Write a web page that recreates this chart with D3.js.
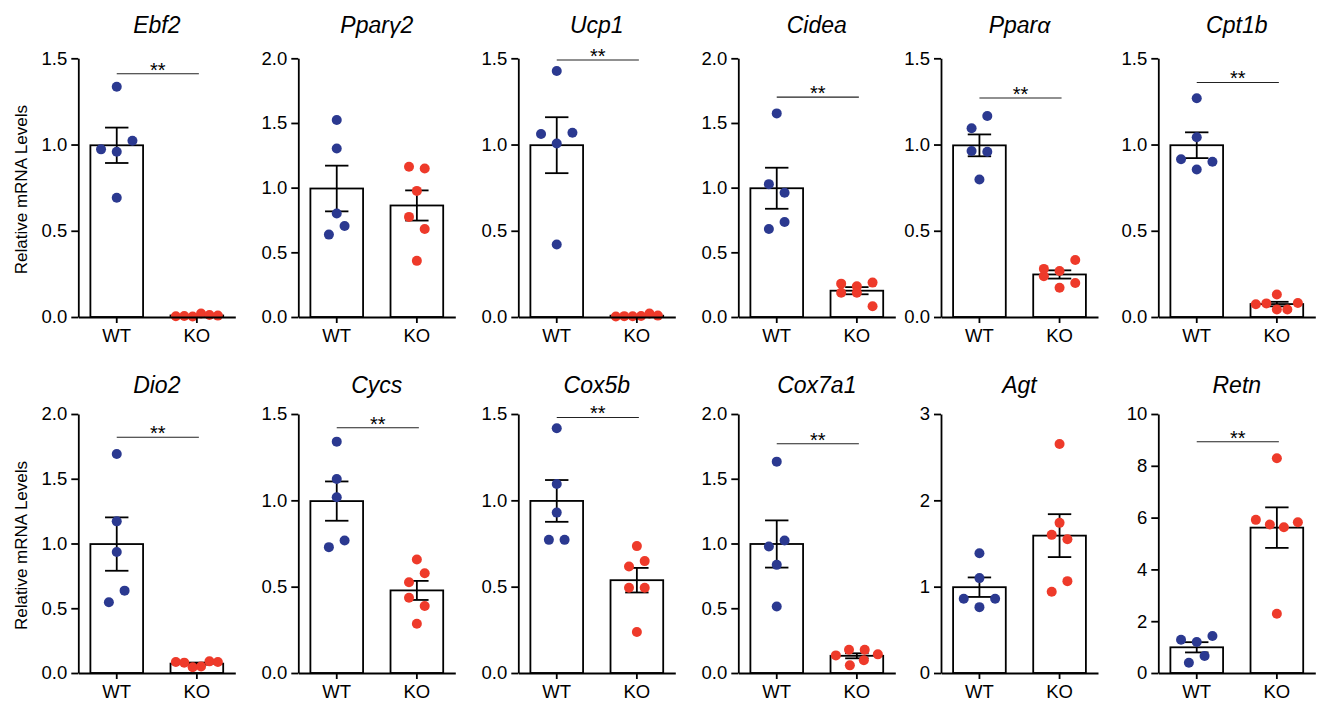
<!DOCTYPE html>
<html>
<head>
<meta charset="utf-8">
<script src="https://cdn.jsdelivr.net/npm/d3@7"></script>
<style>
  body { margin: 0; background: #fff; }
  text { font-family: "Liberation Sans", Arial, sans-serif; }
</style>
</head>
<body>
<svg id="chart" width="1321" height="702"></svg>
<script>
// Data (relative mRNA levels, one dot per mouse)
const genes = ["Ebf2", "Pparγ2", "Ucp1", "Cidea", "Pparα", "Cpt1b",
               "Dio2", "Cycs", "Cox5b", "Cox7a1", "Agt", "Retn"];
const groups = ["WT", "KO"];

const wtValues = [
  [1.335, 0.972, 0.958, 1.022, 0.691],
  [1.523, 1.303, 0.800, 0.637, 0.704],
  [1.426, 1.061, 1.006, 1.068, 0.420],
  [1.574, 1.027, 0.960, 0.681, 0.735],
  [1.094, 1.165, 0.962, 0.958, 0.797],
  [0.915, 0.855, 0.900, 1.042, 1.268],
  [1.691, 1.171, 0.934, 0.546, 0.636],
  [1.340, 1.124, 1.018, 0.729, 0.767],
  [1.417, 1.095, 0.929, 0.771, 0.771],
  [1.632, 0.977, 1.023, 0.835, 0.514],
  [1.388, 1.099, 0.860, 0.763, 0.860],
  [1.285, 1.195, 1.427, 0.398, 0.656]
];

const koValues = [
  [0.004, 0.006, 0.003, 0.020, 0.012, 0.008],
  [1.161, 1.148, 0.975, 0.774, 0.681, 0.434],
  [0.003, 0.005, 0.004, 0.006, 0.020, 0.008],
  [0.258, 0.188, 0.237, 0.188, 0.266, 0.083],
  [0.236, 0.170, 0.197, 0.279, 0.267, 0.331],
  [0.074, 0.079, 0.043, 0.043, 0.081, 0.130],
  [0.085, 0.080, 0.045, 0.050, 0.090, 0.085],
  [0.657, 0.526, 0.578, 0.436, 0.388, 0.285],
  [0.735, 0.617, 0.648, 0.494, 0.494, 0.237],
  [0.136, 0.180, 0.059, 0.098, 0.180, 0.144],
  [2.653, 1.739, 1.600, 1.550, 0.941, 1.064],
  [8.290, 5.913, 5.733, 5.630, 5.823, 2.288]
];

// y axis range and ticks per panel
const yMax = [1.5, 2, 1.5, 2, 1.5, 1.5, 2, 1.5, 1.5, 2, 3, 10];
const yTicks = [
  [0, 0.5, 1, 1.5], [0, 0.5, 1, 1.5, 2], [0, 0.5, 1, 1.5], [0, 0.5, 1, 1.5, 2],
  [0, 0.5, 1, 1.5], [0, 0.5, 1, 1.5], [0, 0.5, 1, 1.5, 2], [0, 0.5, 1, 1.5],
  [0, 0.5, 1, 1.5], [0, 0.5, 1, 1.5, 2], [0, 1, 2, 3], [0, 2, 4, 6, 8, 10]
];
// height of the "**" bracket (null = not significant)
const sigLevel = [1.41, null, 1.49, 1.70, 1.27, 1.36, 1.82, 1.42, 1.48, 1.77, null, 8.93];

// Layout
const panelX = [78.3, 298.3, 518.3, 738.3, 941, 1158.3];
const rowZero = [317, 673];
const rowTop = [58.3, 414];
const titleY = [32.5, 393];
const axisWidth = 157;
const dotR = 5;
const colours = { WT: "#2b3990", KO: "#ee3a2a" };
const FONT = "'Liberation Sans', Arial, sans-serif";

const svg = d3.select("#chart");

// Scatter dots in rows (GraphPad-like): points close in y share a row and are spread sideways
function swarm(values, y) {
  const step = 15.7, maxHalf = 21, gap = 14;
  const order = d3.range(values.length).sort((a, b) => values[a] - values[b] || a - b);
  const off = new Array(values.length).fill(0);
  let i = 0;
  while (i < order.length) {
    const y0 = y(values[order[i]]);
    let j = i;
    while (j < order.length && Math.abs(y(values[order[j]]) - y0) < gap) j++;
    const bin = order.slice(i, j).sort((a, b) => a - b);
    const n = bin.length;
    const sp = n > 1 ? Math.min(step, 2 * maxHalf / (n - 1)) : 0;
    bin.forEach((k, m) => off[k] = (m - (n - 1) / 2) * sp);
    i = j;
  }
  return off;
}

genes.forEach((gene, i) => {
  const col = i % 6, row = Math.floor(i / 6);
  const a = panelX[col];
  const g = svg.append("g");

  const x = d3.scaleBand()
    .domain(groups)
    .range([a, a + axisWidth])
    .paddingInner(0.3425)
    .paddingOuter(0.151);

  const y = d3.scaleLinear()
    .domain([0, yMax[i]])
    .range([rowZero[row], rowTop[row]]);

  const fmt = yMax[i] >= 3 ? d3.format("d") : d3.format(".1f");

  const series = { WT: wtValues[i], KO: koValues[i] };
  const stats = groups.map(k => {
    const v = series[k];
    return { key: k, mean: d3.mean(v), sem: d3.deviation(v) / Math.sqrt(v.length) };
  });

  // Bars
  g.selectAll(".bar")
    .data(stats)
    .join("rect")
    .attr("x", d => x(d.key))
    .attr("width", x.bandwidth())
    .attr("y", d => y(d.mean))
    .attr("height", d => y(0) - y(d.mean))
    .attr("fill", "#fff")
    .attr("stroke", "#000")
    .attr("stroke-width", 1.8);

  // Error bars (mean ± SEM)
  const cx = k => x(k) + x.bandwidth() / 2;
  const eb = g.selectAll(".err").data(stats).join("g");
  eb.append("line")
    .attr("x1", d => cx(d.key)).attr("x2", d => cx(d.key))
    .attr("y1", d => y(d.mean - d.sem)).attr("y2", d => y(d.mean + d.sem));
  eb.append("line")
    .attr("x1", d => cx(d.key) - 11.7).attr("x2", d => cx(d.key) + 11.7)
    .attr("y1", d => y(d.mean + d.sem)).attr("y2", d => y(d.mean + d.sem));
  eb.append("line")
    .attr("x1", d => cx(d.key) - 11.7).attr("x2", d => cx(d.key) + 11.7)
    .attr("y1", d => y(d.mean - d.sem)).attr("y2", d => y(d.mean - d.sem));
  eb.selectAll("line").attr("stroke", "#000").attr("stroke-width", 1.8);

  // Dots
  groups.forEach(k => {
    const off = swarm(series[k], y);
    g.selectAll(".dot-" + k)
      .data(series[k])
      .join("circle")
      .attr("cx", (d, m) => cx(k) + off[m])
      .attr("cy", d => y(d))
      .attr("r", dotR)
      .attr("fill", colours[k]);
  });

  // Axes
  const yAxis = g.append("g")
    .attr("transform", `translate(${a},0)`)
    .call(d3.axisLeft(y).tickValues(yTicks[i]).tickFormat(fmt).tickSize(7).tickSizeOuter(0).tickPadding(4));
  const xAxis = g.append("g")
    .attr("transform", `translate(0,${y(0)})`)
    .call(d3.axisBottom(x).tickSize(6).tickSizeOuter(0));
  [yAxis, xAxis].forEach(ax => {
    ax.selectAll("path, line").attr("stroke", "#000").attr("stroke-width", 1.8);
    ax.selectAll("text").attr("fill", "#000").style("font-size", "18.5px").style("font-family", FONT);
  });
  xAxis.selectAll("text").attr("y", 25).attr("dy", null);

  // Title
  g.append("text")
    .attr("x", (cx("WT") + cx("KO")) / 2)
    .attr("y", titleY[row])
    .attr("text-anchor", "middle")
    .style("font-size", "23px")
    .style("font-style", "italic")
    .text(gene);

  // Significance bracket
  if (sigLevel[i] !== null) {
    const ly = y(sigLevel[i]);
    g.append("line")
      .attr("x1", cx("WT")).attr("x2", cx("KO") + 2)
      .attr("y1", ly).attr("y2", ly)
      .attr("stroke", "#222").attr("stroke-width", 1.1);
    g.append("text")
      .attr("x", (cx("WT") + cx("KO")) / 2 + 1)
      .attr("y", ly + 3)
      .attr("text-anchor", "middle")
      .style("font-size", "20px")
      .text("**");
  }

  // Y axis title on the first panel of each row
  if (col === 0) {
    g.append("text")
      .attr("transform", `translate(26.5,${(rowZero[row] + rowTop[row]) / 2 + 2}) rotate(-90)`)
      .attr("text-anchor", "middle")
      .style("font-size", "17px")
      .text("Relative mRNA Levels");
  }
});
</script>
</body>
</html>
